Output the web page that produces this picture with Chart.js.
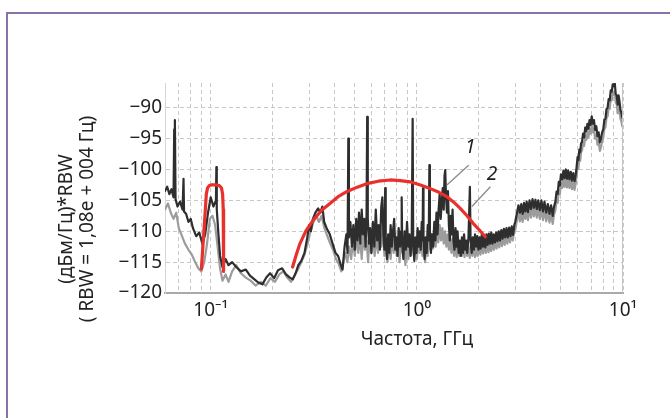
<!DOCTYPE html>
<html>
<head>
<meta charset="utf-8">
<script src="https://cdn.jsdelivr.net/npm/chart.js@4.4.1/dist/chart.umd.min.js"></script>
<style>
  html, body { margin: 0; padding: 0; background: #fff; }
  #wrap { position: relative; width: 670px; height: 418px; overflow: hidden; }
  #frame { position: absolute; left: 6px; top: 12px; width: 700px; height: 420px;
           border-top: 2px solid #8673a9; border-left: 2px solid #8673a9; }
  canvas { position: absolute; left: 0; top: 0; }
</style>
</head>
<body>
<div id="wrap">
  <div id="frame"></div>
  <canvas id="myChart" width="670" height="418"></canvas>
</div>
<script>
// spectrum traces: [frequency GHz, level]
const trace1 = [
  [0.060,-103.5],[0.0615,-102.8],[0.063,-104.0],[0.0645,-103.2],[0.066,-104.5],[0.0665,-93.5],[0.067,-92.0],
  [0.0675,-104.8],[0.069,-106.0],[0.071,-105.2],[0.073,-106.5],[0.0738,-101.5],[0.0742,-106.8],[0.076,-107.2],
  [0.078,-108.5],[0.080,-108.0],[0.082,-109.5],[0.085,-110.8],[0.088,-110.2],[0.091,-112.0],[0.094,-110.5],
  [0.097,-107.0],[0.100,-104.5],[0.103,-106.0],[0.106,-105.0],[0.1065,-99.6],[0.107,-106.5],[0.109,-110.5],
  [0.111,-114.0],[0.114,-115.8],[0.118,-114.5],[0.122,-115.5],[0.127,-115.0],[0.133,-115.8],[0.140,-116.5],
  [0.148,-116.2],[0.155,-117.2],[0.163,-117.8],[0.170,-118.3],[0.178,-118.6],[0.186,-117.5],[0.194,-116.8],
  [0.203,-117.6],[0.212,-116.3],[0.222,-116.0],[0.232,-117.0],[0.242,-117.5],[0.250,-117.8],[0.258,-116.8],
  [0.266,-115.5],[0.275,-114.8],[0.285,-113.5],[0.294,-111.0],[0.300,-109.0],[0.306,-110.0],[0.313,-108.0],
  [0.322,-107.0],[0.332,-106.3],[0.340,-107.0],[0.348,-106.0],[0.355,-108.5],[0.365,-109.5],[0.378,-110.5],
  [0.390,-112.0],[0.403,-113.5],[0.415,-114.0],[0.428,-115.5],[0.436,-116.2],[0.446,-112.5],[0.455,-110.5],
  [0.461,-113.5],[0.465,-95.0],[0.468,-111.0],[0.476,-108.5],[0.484,-112.5],[0.492,-109.0],[0.500,-113.0],
  [0.508,-108.0],[0.516,-111.5],[0.524,-107.0],[0.532,-112.0],[0.540,-106.5],[0.548,-110.5],[0.556,-108.0],
  [0.564,-112.5],[0.570,-107.5],[0.574,-91.5],[0.578,-108.0],[0.586,-112.0],[0.594,-109.5],[0.602,-113.5],
  [0.612,-108.5],[0.622,-112.5],[0.632,-106.5],[0.642,-111.5],[0.652,-109.0],[0.662,-113.0],[0.672,-106.0],
  [0.680,-104.5],[0.688,-110.5],[0.696,-113.0],[0.702,-103.0],[0.706,-111.0],[0.716,-114.5],[0.726,-110.5],
  [0.736,-113.5],[0.746,-109.0],[0.756,-112.5],[0.766,-110.0],[0.776,-108.0],[0.786,-113.0],[0.796,-111.0],
  [0.806,-114.0],[0.816,-109.5],[0.828,-112.5],[0.838,-110.0],[0.844,-104.5],[0.849,-112.0],[0.860,-114.5],
  [0.872,-110.0],[0.884,-113.0],[0.896,-108.5],[0.908,-112.5],[0.920,-110.5],[0.932,-114.0],[0.944,-111.0],
  [0.954,-91.8],[0.960,-112.0],[0.972,-114.8],[0.984,-111.0],[0.996,-113.5],[1.008,-109.5],[1.020,-112.5],
  [1.032,-110.0],[1.044,-113.0],[1.056,-108.5],[1.066,-111.5],[1.071,-103.0],[1.077,-111.0],[1.090,-114.5],
  [1.103,-111.0],[1.116,-113.5],[1.129,-109.0],[1.142,-111.5],[1.150,-99.3],[1.157,-110.0],[1.170,-113.5],
  [1.185,-110.5],[1.200,-112.5],[1.215,-108.5],[1.230,-111.5],[1.245,-107.0],[1.260,-110.5],[1.275,-106.5],
  [1.290,-104.0],[1.305,-108.0],[1.320,-105.5],[1.335,-103.0],[1.350,-106.5],[1.362,-101.0],[1.373,-100.1],
  [1.385,-104.5],[1.400,-107.0],[1.415,-103.5],[1.430,-109.0],[1.445,-111.5],[1.460,-107.5],[1.475,-110.5],
  [1.490,-106.5],[1.505,-111.5],[1.522,-113.0],[1.540,-109.5],[1.558,-112.5],[1.576,-110.0],[1.595,-113.5],
  [1.614,-111.5],[1.634,-114.0],[1.654,-111.0],[1.674,-113.5],[1.694,-110.5],[1.714,-113.0],[1.735,-111.5],
  [1.756,-113.5],[1.780,-111.0],[1.808,-102.8],[1.822,-111.5],[1.845,-113.5],[1.868,-111.0],[1.891,-113.0],
  [1.915,-110.5],[1.940,-112.5],[1.965,-110.8],[1.990,-113.0],[2.015,-111.0],[2.040,-112.8],[2.066,-110.5],
  [2.092,-112.5],[2.120,-110.8],[2.148,-112.6],[2.176,-110.5],[2.205,-112.2],[2.235,-110.4],[2.265,-112.0],
  [2.296,-110.2],[2.328,-112.0],[2.360,-110.5],[2.393,-111.8],[2.427,-110.2],[2.461,-111.6],[2.496,-110.0],
  [2.532,-111.5],[2.569,-109.8],[2.606,-111.2],[2.644,-109.6],[2.683,-111.0],[2.722,-109.5],[2.762,-111.0],
  [2.803,-109.4],[2.845,-110.8],[2.887,-109.2],[2.930,-110.6],[2.970,-109.0],[3.000,-108.5],[3.06,-107.0],
  [3.11,-105.8],[3.16,-107.0],[3.21,-105.6],[3.26,-107.2],[3.31,-105.4],[3.36,-106.8],[3.41,-105.2],
  [3.46,-106.9],[3.52,-105.0],[3.58,-106.4],[3.64,-104.8],[3.70,-106.2],[3.76,-104.9],[3.82,-106.4],
  [3.88,-105.0],[3.95,-106.6],[4.02,-105.0],[4.09,-106.8],[4.16,-105.2],[4.24,-107.0],[4.32,-105.6],
  [4.40,-107.2],[4.48,-105.8],[4.56,-107.5],[4.63,-106.0],[4.70,-105.2],[4.76,-103.6],[4.82,-104.0],
  [4.88,-102.0],[4.94,-102.6],[5.00,-100.8],[5.07,-101.6],[5.14,-100.2],[5.21,-101.4],[5.28,-100.0],
  [5.35,-101.5],[5.42,-100.2],[5.50,-101.6],[5.58,-100.4],[5.66,-101.8],[5.74,-100.6],[5.82,-101.9],
  [5.90,-100.8],[5.96,-99.5],[6.02,-98.0],[6.08,-98.5],[6.14,-96.8],[6.20,-97.2],[6.26,-95.8],[6.33,-95.5],
  [6.40,-94.2],[6.48,-94.8],[6.56,-93.2],[6.64,-93.8],[6.72,-92.6],[6.80,-93.4],[6.88,-92.0],[6.96,-92.8],
  [7.05,-91.4],[7.14,-92.6],[7.23,-92.0],[7.32,-93.6],[7.42,-93.0],[7.52,-94.6],[7.62,-94.0],[7.72,-95.6],
  [7.82,-95.0],[7.92,-94.0],[8.02,-93.5],[8.12,-92.0],[8.22,-91.8],[8.32,-90.2],[8.42,-90.0],[8.52,-88.6],
  [8.62,-88.8],[8.72,-87.2],[8.82,-87.4],[8.92,-86.2],[9.02,-86.5],[9.12,-86.0],[9.22,-87.8],[9.32,-88.0],
  [9.42,-89.5],[9.52,-88.0],[9.62,-89.0],[9.72,-90.4],[9.82,-90.8],[9.92,-91.6],[10.0,-91.8]
];
const trace2 = [
  [0.060,-106.5],[0.062,-105.5],[0.064,-107.0],[0.066,-108.0],[0.068,-107.0],[0.070,-109.5],[0.072,-110.5],
  [0.075,-112.0],[0.078,-113.0],[0.081,-113.8],[0.084,-115.0],[0.087,-116.0],[0.090,-116.5],[0.093,-115.0],
  [0.096,-112.0],[0.099,-108.0],[0.102,-107.5],[0.105,-109.0],[0.108,-112.5],[0.111,-116.0],[0.114,-118.0],
  [0.118,-117.0],[0.122,-118.2],[0.127,-116.5],[0.133,-115.5],[0.140,-116.8],[0.148,-117.5],[0.156,-118.0],
  [0.165,-118.8],[0.175,-118.2],[0.185,-118.8],[0.195,-117.6],[0.205,-118.2],[0.215,-117.0],[0.225,-116.5],
  [0.235,-117.5],[0.245,-118.2],[0.255,-117.2],[0.265,-116.2],[0.275,-115.0],[0.285,-113.8],[0.295,-112.0],
  [0.305,-110.0],[0.315,-108.5],[0.325,-107.5],[0.335,-108.5],[0.345,-107.5],[0.356,-109.5],[0.368,-110.8],
  [0.380,-112.0],[0.392,-113.0],[0.405,-114.5],[0.418,-115.3],[0.430,-116.5],[0.440,-115.0],[0.450,-113.5],
  [0.460,-115.0],[0.470,-112.5],[0.480,-114.5],[0.490,-111.5],[0.500,-114.0],[0.510,-110.5],[0.520,-113.5],
  [0.530,-111.0],[0.540,-114.5],[0.550,-110.5],[0.560,-113.0],[0.570,-111.5],[0.580,-115.0],[0.590,-111.0],
  [0.600,-113.5],[0.612,-110.5],[0.624,-114.0],[0.636,-111.0],[0.648,-113.5],[0.660,-110.0],[0.672,-112.5],
  [0.684,-109.5],[0.696,-114.0],[0.708,-111.5],[0.720,-115.0],[0.733,-112.0],[0.746,-114.5],[0.759,-111.0],
  [0.772,-113.5],[0.785,-110.5],[0.798,-114.0],[0.811,-112.0],[0.824,-115.0],[0.838,-111.5],[0.852,-113.5],
  [0.866,-112.0],[0.880,-115.5],[0.895,-112.0],[0.910,-114.5],[0.925,-111.5],[0.940,-113.8],[0.955,-110.5],
  [0.970,-114.0],[0.985,-112.0],[1.000,-114.5],[1.016,-111.0],[1.032,-113.5],[1.048,-110.5],[1.064,-114.0],
  [1.080,-111.5],[1.096,-115.0],[1.112,-112.0],[1.128,-114.0],[1.145,-111.0],[1.162,-113.0],[1.180,-110.5],
  [1.198,-112.8],[1.216,-110.0],[1.234,-112.5],[1.252,-109.5],[1.270,-111.8],[1.290,-109.0],[1.310,-111.5],
  [1.330,-109.5],[1.350,-112.0],[1.370,-110.0],[1.390,-112.5],[1.410,-110.5],[1.430,-113.0],[1.450,-111.0],
  [1.472,-113.5],[1.494,-111.2],[1.516,-114.0],[1.538,-111.5],[1.560,-114.2],[1.583,-112.0],[1.606,-114.0],
  [1.630,-111.8],[1.654,-114.0],[1.678,-112.2],[1.703,-114.2],[1.728,-112.0],[1.754,-114.0],[1.780,-112.4],
  [1.806,-114.3],[1.833,-112.5],[1.860,-114.0],[1.888,-112.4],[1.916,-114.2],[1.945,-112.6],[1.974,-114.0],
  [2.004,-112.4],[2.034,-113.8],[2.065,-112.2],[2.096,-113.6],[2.128,-112.0],[2.160,-113.5],[2.193,-112.0],
  [2.226,-113.4],[2.260,-111.8],[2.294,-113.2],[2.329,-111.6],[2.364,-113.0],[2.400,-111.5],[2.436,-112.8],
  [2.473,-111.2],[2.510,-112.6],[2.548,-111.0],[2.587,-112.4],[2.626,-110.8],[2.666,-112.2],[2.706,-110.6],
  [2.747,-112.0],[2.789,-110.4],[2.831,-111.8],[2.874,-110.2],[2.918,-111.5],[2.962,-110.0],[3.000,-109.8],
  [3.06,-108.2],[3.11,-107.0],[3.16,-108.4],[3.21,-106.8],[3.26,-108.5],[3.31,-106.6],[3.36,-108.0],
  [3.41,-106.5],[3.46,-108.2],[3.52,-106.3],[3.58,-107.8],[3.64,-106.2],[3.70,-107.6],[3.76,-106.2],
  [3.82,-107.8],[3.88,-106.3],[3.95,-108.0],[4.02,-106.4],[4.09,-108.2],[4.16,-106.5],[4.24,-108.4],
  [4.32,-106.9],[4.40,-108.6],[4.48,-107.2],[4.56,-108.8],[4.63,-107.3],[4.70,-106.6],[4.76,-105.0],
  [4.82,-105.4],[4.88,-103.4],[4.94,-104.0],[5.00,-102.2],[5.07,-103.0],[5.14,-101.6],[5.21,-102.8],
  [5.28,-101.4],[5.35,-102.9],[5.42,-101.6],[5.50,-103.0],[5.58,-101.8],[5.66,-103.2],[5.74,-102.0],
  [5.82,-103.3],[5.90,-102.2],[5.96,-100.9],[6.02,-99.4],[6.08,-99.9],[6.14,-98.2],[6.20,-98.6],[6.26,-97.2],
  [6.33,-96.9],[6.40,-95.6],[6.48,-96.2],[6.56,-94.6],[6.64,-95.2],[6.72,-94.0],[6.80,-94.8],[6.88,-93.4],
  [6.96,-94.2],[7.05,-92.8],[7.14,-94.0],[7.23,-93.4],[7.32,-95.0],[7.42,-94.4],[7.52,-96.0],[7.62,-95.4],
  [7.72,-97.0],[7.82,-96.4],[7.92,-95.4],[8.02,-94.9],[8.12,-93.4],[8.22,-93.2],[8.32,-91.6],[8.42,-91.4],
  [8.52,-90.0],[8.62,-90.2],[8.72,-88.6],[8.82,-88.8],[8.92,-87.6],[9.02,-87.9],[9.12,-87.4],[9.22,-89.2],
  [9.32,-89.4],[9.42,-90.9],[9.52,-89.4],[9.62,-90.4],[9.72,-91.8],[9.82,-92.2],[9.92,-93.0],[10.0,-93.2]
];
// red envelopes drawn by hand over the plot
const arcSmall = [
  [0.0901,-116.1],[0.0935,-108.0],[0.0952,-104.0],[0.0965,-103.0],[0.0985,-102.6],[0.1011,-102.5],
  [0.1057,-102.5],[0.1100,-102.6],[0.1128,-103.0],[0.1142,-104.0],[0.1150,-106.5],[0.1153,-112.0],[0.1156,-116.5]
];
const arcBig = [
  [0.2495,-115.8],[0.2600,-113.8],[0.2709,-112.0],[0.2900,-109.9],[0.3143,-108.2],[0.3450,-106.6],
  [0.3789,-105.5],[0.4150,-104.4],[0.4567,-103.6],[0.5100,-102.9],[0.5712,-102.3],[0.6500,-101.9],
  [0.7416,-101.7],[0.8300,-101.8],[0.9277,-102.0],[1.0400,-102.5],[1.161,-103.1],[1.280,-103.7],
  [1.399,-104.4],[1.510,-105.3],[1.623,-106.3],[1.750,-107.5],[1.884,-108.8],[2.010,-109.8],[2.148,-110.9]
];
// curve numbers and their leader lines
const noteLabels = ['1', '2'];
const notePos = [[1.816, -96.5], [2.315, -100.9]];
const noteLeaders = [[[1.782, -99.3], [1.399, -102.5]], [[2.272, -102.8], [1.851, -106.0]]];

const xGrid = [0.06,0.07,0.08,0.09,0.1,0.2,0.3,0.4,0.5,0.6,0.7,0.8,0.9,1,2,3,4,5,6,7,8,9,10];
const xTickValues = [0.1, 1, 10];
const xTickLabels = ['10⁻¹', '10⁰', '10¹'];
const yTickValues = [-120, -115, -110, -105, -100, -95, -90];
const yTickLabels = ['−120', '−115', '−110', '−105', '−100', '−95', '−90'];
const xTitle = 'Частота, ГГц';
const yTitle = ['(дБм/Гц)*RBW', '( RBW = 1,08e + 004 Гц)'];

const toPts = arr => arr.map(p => ({x: p[0], y: p[1]}));
const FONT = '"Noto Sans", "Open Sans", sans-serif';

const extras = {
  id: 'extras',
  afterDraw(chart) {
    const ctx = chart.ctx;
    const xs = chart.scales.x, ys = chart.scales.y;
    const a = chart.chartArea;
    ctx.save();
    // right frame line
    ctx.strokeStyle = '#c4c4c4';
    ctx.lineWidth = 1;
    ctx.beginPath();
    ctx.moveTo(a.right - 0.5, a.top);
    ctx.lineTo(a.right - 0.5, a.bottom);
    ctx.stroke();
    // leaders + numbers
    ctx.strokeStyle = '#8a8a8a';
    ctx.lineWidth = 1.3;
    noteLeaders.forEach(l => {
      ctx.beginPath();
      ctx.moveTo(xs.getPixelForValue(l[0][0]), ys.getPixelForValue(l[0][1]));
      ctx.lineTo(xs.getPixelForValue(l[1][0]), ys.getPixelForValue(l[1][1]));
      ctx.stroke();
    });
    ctx.fillStyle = '#222';
    ctx.font = 'italic 19px ' + FONT;
    ctx.textAlign = 'center';
    ctx.textBaseline = 'middle';
    noteLabels.forEach((t, i) => {
      ctx.fillText(t, xs.getPixelForValue(notePos[i][0]), ys.getPixelForValue(notePos[i][1]));
    });
    // axis titles
    ctx.font = '19px ' + FONT;
    ctx.fillText(xTitle, xs.getPixelForValue(1), a.bottom + 47);
    ctx.translate(67, 219);
    ctx.rotate(-Math.PI / 2);
    ctx.fillText(yTitle[0], 0, 0);
    ctx.fillText(yTitle[1], 0, 21);
    ctx.restore();
  }
};

const ctx = document.getElementById('myChart').getContext('2d');
new Chart(ctx, {
  type: 'line',
  data: {
    datasets: [
      { data: toPts(arcSmall), borderColor: '#e9302c', borderWidth: 3.2, order: 0 },
      { data: toPts(arcBig), borderColor: '#e9302c', borderWidth: 3.2, order: 0 },
      { data: toPts(trace1), borderColor: '#2e2e2e', borderWidth: 2.2, order: 1 },
      { data: toPts(trace2), borderColor: '#9c9c9c', borderWidth: 2.2, order: 2 }
    ]
  },
  options: {
    responsive: false,
    animation: false,
    devicePixelRatio: 1,
    elements: { point: { radius: 0 }, line: { tension: 0, borderJoinStyle: 'round', borderCapStyle: 'round' } },
    layout: { padding: { left: 0, top: 83, right: 47, bottom: 0 } },
    plugins: { legend: { display: false }, tooltip: { enabled: false } },
    scales: {
      x: {
        type: 'logarithmic',
        min: 0.06,
        max: 10,
        afterFit: s => { s.height = 125; },
        afterBuildTicks: s => { s.ticks = xGrid.map(v => ({ value: v })); },
        grid: { color: '#c8c8c8', lineWidth: 1, drawTicks: false, borderDash: [4, 3] },
        border: { display: true, color: '#a9a9a9', width: 2, dash: [4, 3] },
        ticks: {
          autoSkip: false,
          maxRotation: 0,
          padding: 6,
          color: '#222',
          font: { family: FONT, size: 19 },
          callback: v => { const i = xTickValues.indexOf(v); return i >= 0 ? xTickLabels[i] : ''; }
        }
      },
      y: {
        min: -120,
        max: -86,
        afterFit: s => { s.width = 165; },
        afterBuildTicks: s => { s.ticks = yTickValues.map(v => ({ value: v })); },
        grid: { color: '#c8c8c8', lineWidth: 1, drawTicks: false, borderDash: [4, 3] },
        border: { display: true, color: '#d6d6d6', width: 1, dash: [4, 3] },
        ticks: {
          padding: 3,
          color: '#222',
          font: { family: FONT, size: 19 },
          callback: v => yTickLabels[yTickValues.indexOf(v)]
        }
      }
    }
  },
  plugins: [extras]
});
</script>
</body>
</html>
